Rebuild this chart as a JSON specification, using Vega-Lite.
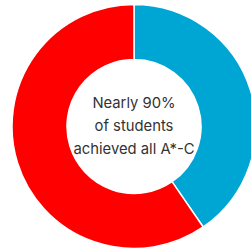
{
  "$schema": "https://vega.github.io/schema/vega-lite/v6.json",
  "width": 244,
  "height": 245,
  "autosize": {"type": "none"},
  "padding": {"left": 12, "top": 4, "right": 0, "bottom": 0},
  "background": "white",
  "config": {"view": {"stroke": null}},
  "layer": [
    {
      "data": {"values": [
        {"group": "A", "value": 40.4, "order": 1},
        {"group": "B", "value": 59.6, "order": 2}
      ]},
      "mark": {"type": "arc", "outerRadius": 122, "innerRadius": 67, "stroke": "white", "strokeWidth": 1.5},
      "encoding": {
        "theta": {"field": "value", "type": "quantitative", "stack": true},
        "order": {"field": "order", "type": "quantitative"},
        "color": {"field": "group", "type": "nominal", "legend": null,
          "scale": {"domain": ["A", "B"], "range": ["#00a6d3", "#ff0000"]}}
      }
    },
    {
      "data": {"values": [{"label": "Nearly 90%\nof students\nachieved all A*-C"}]},
      "mark": {"type": "text", "lineBreak": "\n", "fontSize": 14.8, "lineHeight": 23, "dy": -23, "font": "Inter", "color": "#333333", "align": "center", "baseline": "middle"},
      "encoding": {"text": {"field": "label"}}
    }
  ]
}
